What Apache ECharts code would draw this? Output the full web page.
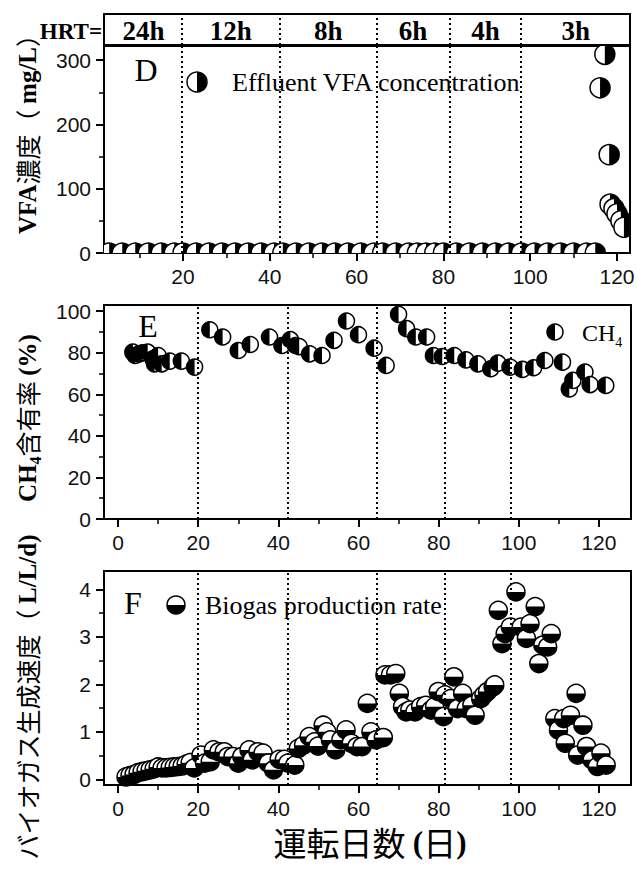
<!DOCTYPE html>
<html>
<head>
<meta charset="utf-8">
<script src="https://cdn.jsdelivr.net/npm/echarts@6/dist/echarts.min.js"></script>
<style>
  html, body { margin: 0; padding: 0; background: #fff; }
  #chart { width: 638px; height: 876px; }
</style>
</head>
<body>
<div id="chart"></div>
<script>
// --- data ---
const vfaDays = [3, 6, 9, 12, 15, 18, 20, 23, 26, 29, 32, 35, 38, 41, 43, 46, 49, 52, 55, 58,
  61, 64, 66, 69, 72, 74, 76, 78, 80, 83, 86, 89, 92, 95, 98, 101, 104, 107, 110, 113, 115,
  116.1, 117.2, 118.2, 118.4, 119.3, 120, 120.9, 121.6]
const vfaValues = [0, 0, 0, 0, 0, 0, 0, 0, 0, 0, 0, 0, 0, 0, 0, 0, 0, 0, 0, 0,
  0, 0, 0, 0, 0, 0, 0, 0, 0, 0, 0, 0, 0, 0, 0, 0, 0, 0, 0, 0, 0,
  257, 309, 153, 76, 69, 61, 50, 40]

const ch4Days = [3.7, 4.3, 5.2, 6.1, 7.4, 8.7, 9.1, 10, 10.9, 12.9, 15.8, 19.1, 22.9, 26.1, 30,
  33, 37.8, 40.9, 43, 44.3, 45.2, 47.8, 50.9, 53.9, 57, 60, 63.9, 66.9, 70, 72, 74.3, 77, 78.7,
  80.9, 83.9, 86.8, 89.8, 93, 94.8, 97.8, 100.9, 103.7, 106.5, 110.9, 112.6, 113.5, 116.5, 117.8, 121.7]
const ch4Values = [80.3, 78.7, 79.5, 80, 80.3, 77.1, 74.7, 78.7, 74.7, 76, 76, 73.1, 91.1, 87.6, 81.1,
  84, 87.6, 83.5, 86.3, 83.5, 83, 79.5, 78.7, 86, 95.3, 88.7, 82.2, 73.9, 98.5, 91.6, 87.6, 87.6, 78.7,
  78.2, 78.7, 76.6, 74.7, 72.3, 75, 73.1, 72, 72.8, 76.3, 75.5, 62.6, 66.7, 70.7, 64.7, 64.3]

const biogasDays = [2, 3, 4, 5, 6, 7, 8, 9, 10, 11, 12, 13, 14, 15, 16, 17, 18, 19,
  20.7, 21.6, 23, 23.8, 25.2, 26.5, 27.4, 28.7, 30, 30.9, 32.7, 33.5, 34.9, 36.2, 37.5, 38.8, 40.2, 41.5, 42.4, 44.1,
  45, 46.3, 47.7, 49, 49.9, 51.2, 52.1, 53, 54.3, 55.6, 56.9, 58.2, 59.6, 60.9, 62.2, 63.1, 64.4, 66.2,
  66.6, 68, 69.3, 70.2, 71, 71.9, 72.8, 74.1, 75.5, 76.8, 78.1, 79, 79.9, 81.2,
  81.6, 83, 83.8, 84.7, 86, 86.9, 88.3, 89.1, 90.5, 91.3, 92.2, 93.6, 94,
  94.9, 95.8, 96.6, 97.9, 99.3, 100.6, 101.9, 102.8, 104.1, 105, 106, 107.2, 108.1, 109, 109.9,
  111.2, 111.6, 112.9, 114.3, 114.7, 116, 116.9, 118.3, 119.6, 120.5, 121.8]
const biogasValues = [0.05, 0.08, 0.1, 0.14, 0.16, 0.18, 0.2, 0.22, 0.26, 0.24, 0.24, 0.25, 0.26, 0.27, 0.28, 0.32, 0.35, 0.24,
  0.51, 0.34, 0.37, 0.62, 0.58, 0.58, 0.48, 0.48, 0.34, 0.48, 0.62, 0.41, 0.58, 0.55, 0.34, 0.2, 0.42, 0.42, 0.34, 0.3,
  0.65, 0.72, 0.9, 0.79, 0.7, 1.14, 1.0, 0.83, 0.62, 0.83, 1.04, 0.76, 0.69, 0.69, 1.6, 1.0, 0.83, 0.88,
  2.2, 2.2, 2.23, 1.81, 1.53, 1.42, 1.46, 1.42, 1.53, 1.56, 1.46, 1.53, 1.85, 1.32,
  1.78, 1.7, 2.16, 1.49, 1.81, 1.49, 1.56, 1.35, 1.7, 1.78, 1.85, 1.95, 1.99,
  3.56, 2.86, 3.07, 3.21, 3.95, 3.21, 2.97, 3.28, 3.64, 2.44, 2.83, 2.79, 3.07, 1.28, 1.04,
  1.28, 0.76, 1.35, 1.81, 0.51, 1.14, 0.69, 0.41, 0.27, 0.55, 0.3]

const hrtLabels = ['24h', '12h', '8h', '6h', '4h', '3h']
const hrtCenters = [10.9, 31, 53.5, 73, 89.7, 110.5]
const hrtBounds = [19.8, 42.3, 64.6, 81.5, 97.9]

const vfaDayTicks = [20, 40, 60, 80, 100, 120]
const dayTicks = [0, 20, 40, 60, 80, 100, 120]
const dayMinorTicks = [10, 30, 50, 70, 90, 110]
const vfaTicks = [0, 100, 200, 300]
const vfaMinorTicks = [50, 150, 250]
const ch4Ticks = [0, 20, 40, 60, 80, 100]
const ch4MinorTicks = [10, 30, 50, 70, 90]
const biogasTicks = [0, 1, 2, 3, 4]
const biogasMinorTicks = [0.5, 1.5, 2.5, 3.5]

const serif = '"Liberation Serif", "Times New Roman", serif'
const sans = '"Liberation Sans", Arial, sans-serif'
const cjk = '"Noto Sans CJK JP", sans-serif'

// half-filled circle markers (black part given by sector angles)
const RIGHT = [-Math.PI / 2, Math.PI / 2]
const LEFT = [Math.PI / 2, Math.PI * 1.5]
const BOTTOM = [0, Math.PI]

function dotShape(cx, cy, r, half) {
  return [
    { type: 'circle', shape: { cx, cy, r }, style: { fill: '#fff', stroke: '#000', lineWidth: 1.5 } },
    { type: 'sector', shape: { cx, cy, r0: 0, r, startAngle: half[0], endAngle: half[1] }, style: { fill: '#000' } },
  ]
}

function halfDot(r, half) {
  return (params, api) => {
    const p = api.coord([api.value(0), api.value(1)])
    return { type: 'group', children: dotShape(p[0], p[1], r, half) }
  }
}

const dividers = {
  silent: true,
  symbol: 'none',
  label: { show: false },
  lineStyle: { color: '#000', type: [2, 3], width: 2 },
  data: hrtBounds.map(x => ({ xAxis: x })),
}

function majorAxis(gridIndex, min, max, ticks, position) {
  return {
    type: 'value', gridIndex, min, max, position,
    axisLine: { show: true, onZero: false, lineStyle: { color: '#000', width: 2 } },
    axisTick: { show: true, customValues: ticks, length: 8, lineStyle: { color: '#000', width: 2 } },
    axisLabel: { show: true, customValues: ticks, color: '#111', fontSize: 21, fontFamily: sans, margin: 13 },
    splitLine: { show: false },
  }
}

function minorAxis(gridIndex, min, max, ticks, position) {
  return {
    type: 'value', gridIndex, min, max, position,
    axisLine: { show: false, onZero: false },
    axisTick: { show: true, customValues: ticks, length: 5, lineStyle: { color: '#000', width: 1.5 } },
    axisLabel: { show: false },
    splitLine: { show: false },
  }
}

const gridBase = { show: true, borderColor: '#000', borderWidth: 2, left: 104, containLabel: false }

const nameRich = {
  l: { fontFamily: serif, fontWeight: 'bold', fontSize: 25, fill: '#000', lineHeight: 32 },
  j: { fontFamily: cjk, fontSize: 25, fill: '#000', lineHeight: 32 },
  s: { fontFamily: serif, fontWeight: 'bold', fontSize: 16, fill: '#000', lineHeight: 16, verticalAlign: 'bottom' },
}

function label(x, y, text, font, align = 'left', extra = {}) {
  return {
    type: 'text', x, y, ...extra,
    style: Object.assign({ text, fill: '#000', align, textAlign: align, verticalAlign: 'middle', textVerticalAlign: 'middle' }, font),
  }
}

const chart = echarts.init(document.getElementById('chart'), null, { renderer: 'svg' })

chart.setOption({
  animation: false,
  backgroundColor: '#fff',
  grid: [
    { ...gridBase, top: 46, width: 526, height: 207 },
    { ...gridBase, top: 305, width: 527, height: 214 },
    { ...gridBase, top: 571, width: 527, height: 214 },
    { ...gridBase, top: 14, width: 526, height: 31 },
  ],
  xAxis: [
    majorAxis(0, 1.8, 123, vfaDayTicks, 'bottom'),
    minorAxis(0, 1.8, 123, dayMinorTicks, 'bottom'),
    majorAxis(1, -3.5, 128, dayTicks, 'bottom'),
    minorAxis(1, -3.5, 128, dayMinorTicks, 'bottom'),
    majorAxis(2, -3.5, 128, dayTicks, 'bottom'),
    minorAxis(2, -3.5, 128, dayMinorTicks, 'bottom'),
    { type: 'value', gridIndex: 3, min: 1.8, max: 123, show: false },
  ],
  yAxis: [
    majorAxis(0, 0, 322, vfaTicks, 'left'),
    minorAxis(0, 0, 322, vfaMinorTicks, 'left'),
    majorAxis(1, 0, 103, ch4Ticks, 'left'),
    minorAxis(1, 0, 103, ch4MinorTicks, 'left'),
    majorAxis(2, -0.12, 4.39, biogasTicks, 'left'),
    minorAxis(2, -0.12, 4.39, biogasMinorTicks, 'left'),
    { type: 'value', gridIndex: 3, min: 0, max: 1, show: false },
  ],
  series: [
    {
      name: 'Effluent VFA concentration',
      type: 'custom', xAxisIndex: 0, yAxisIndex: 0, clip: true, silent: true,
      data: vfaDays.map((d, i) => [d, vfaValues[i]]),
      renderItem: halfDot(10, RIGHT),
      markLine: dividers,
    },
    {
      name: 'CH4',
      type: 'custom', xAxisIndex: 2, yAxisIndex: 2, silent: true,
      data: ch4Days.map((d, i) => [d, ch4Values[i]]),
      renderItem: halfDot(8, LEFT),
      markLine: dividers,
    },
    {
      name: 'Biogas production rate',
      type: 'custom', xAxisIndex: 4, yAxisIndex: 4, silent: true,
      data: biogasDays.map((d, i) => [d, biogasValues[i]]),
      renderItem: halfDot(9, BOTTOM),
      markLine: dividers,
    },
    {
      name: 'HRT',
      type: 'custom', xAxisIndex: 6, yAxisIndex: 6, silent: true,
      data: hrtCenters.map(c => [c, 0.5]),
      renderItem: (params, api) => {
        const p = api.coord([api.value(0), api.value(1)])
        return {
          type: 'text', x: p[0], y: p[1] + 1,
          style: {
            text: hrtLabels[params.dataIndex], fill: '#000',
            fontFamily: serif, fontWeight: 'bold', fontSize: 27,
            align: 'center', textAlign: 'center', verticalAlign: 'middle', textVerticalAlign: 'middle',
          },
        }
      },
      markLine: dividers,
    },
  ],
  graphic: [
    label(102, 31, 'HRT=', { fontFamily: serif, fontWeight: 'bold', fontSize: 23 }, 'right'),
    // panel letters
    label(146, 70, 'D', { fontFamily: serif, fontSize: 32 }, 'center'),
    label(148, 326, 'E', { fontFamily: serif, fontSize: 32 }, 'center'),
    label(133, 603, 'F', { fontFamily: serif, fontSize: 32 }, 'center'),
    // legends
    { type: 'group', children: dotShape(197, 82, 10, RIGHT) },
    label(232, 82, 'Effluent VFA concentration', { fontFamily: serif, fontSize: 26 }),
    { type: 'group', children: dotShape(555, 332, 8, LEFT) },
    label(582, 333, '{n|CH}{s|4}', {
      rich: {
        n: { fontFamily: serif, fontSize: 24, fill: '#000', lineHeight: 32 },
        s: { fontFamily: serif, fontSize: 14, fill: '#000', lineHeight: 14, verticalAlign: 'bottom' },
      },
    }),
    { type: 'group', children: dotShape(176, 605, 9, BOTTOM) },
    label(205, 605, 'Biogas production rate', { fontFamily: serif, fontSize: 26 }),
    // axis titles
    label(27, 128, '{l|VFA}{j|濃度（ }{l|mg/L}{j|）}', { rich: nameRich }, 'center', { rotation: Math.PI / 2 }),
    label(27, 418, '{l|CH}{s|4}{j|含有率 }{l|(%)}', { rich: nameRich }, 'center', { rotation: Math.PI / 2 }),
    label(27, 697, '{j|バイオガス生成速度（ }{l|L/L/d)}', { rich: nameRich }, 'center', { rotation: Math.PI / 2 }),
    label(370, 842, '{j|運転日数 }{l|(}{j|日}{l|)}', {
      rich: {
        j: { fontFamily: cjk, fontSize: 33, fill: '#000', lineHeight: 38 },
        l: { fontFamily: serif, fontWeight: 'bold', fontSize: 31, fill: '#000', lineHeight: 38 },
      },
    }, 'center'),
  ],
})
</script>
</body>
</html>
